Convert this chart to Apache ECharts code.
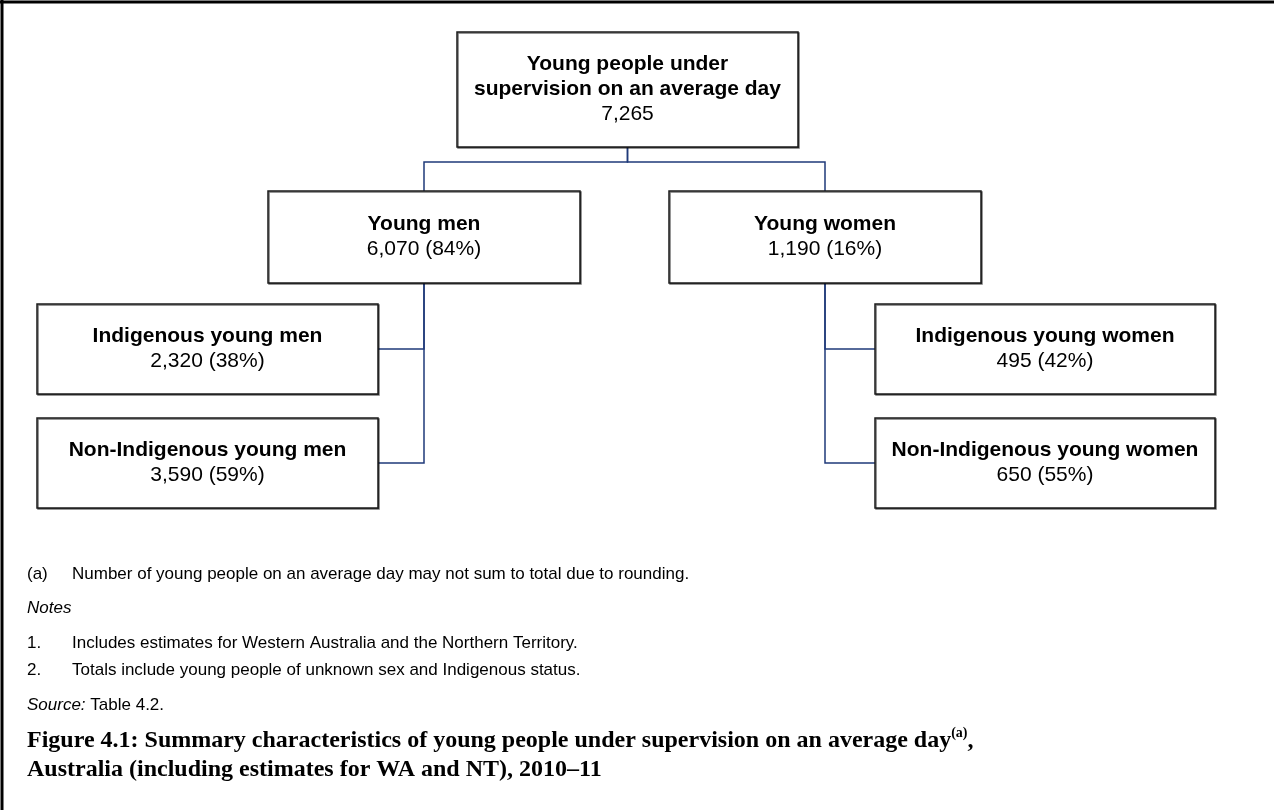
<!DOCTYPE html>
<html>
<head>
<meta charset="utf-8">
<script src="https://cdn.jsdelivr.net/npm/echarts@6/dist/echarts.min.js"></script>
<style>
  html, body { margin: 0; padding: 0; background: #fff; }
  #chart { width: 1274px; height: 810px; }
</style>
</head>
<body>
<div id="chart"></div>
<script>
// 节点文字与数值
var nodeLabels = [
  'Young people under\nsupervision on an average day',
  'Young men',
  'Young women',
  'Indigenous young men',
  'Non-Indigenous young men',
  'Indigenous young women',
  'Non-Indigenous young women'
];
var nodeCounts = [7265, 6070, 1190, 2320, 3590, 495, 650];
var nodeShares = [null, 84, 16, 38, 59, 42, 55];
// 父节点索引，-1 表示根
var nodeParents = [-1, 0, 0, 1, 1, 2, 2];

// 脚注与标题
var footnoteMark = '(a)';
var footnoteText = 'Number of young people on an average day may not sum to total due to rounding.';
var notesHeading = 'Notes';
var notesList = [
  'Includes estimates for Western Australia and the Northern Territory.',
  'Totals include young people of unknown sex and Indigenous status.'
];
var sourceLabel = 'Source:';
var sourceText = 'Table 4.2.';
var figureTitle = [
  'Figure 4.1: Summary characteristics of young people under supervision on an average day',
  'Australia (including estimates for WA and NT), 2010\u201311'
];

// 版面：每个方框的 [x0, y0, x1, y1]（坐标轴单位 = 像素）
var boxLayout = [
  [457, 32, 798, 147],
  [268, 191, 580, 283],
  [669, 191, 981, 283],
  [37, 304, 378, 394],
  [37, 418, 378, 508],
  [875, 304, 1215, 394],
  [875, 418, 1215, 508]
];
var busY = 162;

function fmt(n) {
  return n.toLocaleString('en-US');
}

function boxText(i) {
  var lines = nodeLabels[i].split('\n').map(function (s) { return '{b|' + s + '}'; });
  var val = fmt(nodeCounts[i]);
  if (nodeShares[i] != null) val += ' (' + nodeShares[i] + '%)';
  lines.push('{n|' + val + '}');
  return lines.join('\n');
}

// 连线：第一层从上方接入，第二层从侧面接入
var connectors = [];
for (var i = 0; i < nodeParents.length; i++) {
  var p = nodeParents[i];
  if (p < 0) continue;
  var pb = boxLayout[p], cb = boxLayout[i];
  var px = (pb[0] + pb[2]) / 2;
  var cx = (cb[0] + cb[2]) / 2;
  var coords;
  if (nodeParents[p] < 0) {
    coords = [[px, pb[3]], [px, busY], [cx, busY], [cx, cb[1]]];
  } else {
    var my = (cb[1] + cb[3]) / 2;
    var ex = cx < px ? cb[2] : cb[0];
    coords = [[px, pb[3]], [px, my], [ex, my]];
  }
  connectors.push({ coords: coords });
}

var myChart = echarts.init(document.getElementById('chart'));

var noteFont = '17px "Liberation Sans"';
var titleFont = 'bold 24px "Liberation Serif"';

var graphics = [
  { type: 'line', shape: { x1: 0, y1: 2, x2: 1274, y2: 2 }, style: { stroke: '#000', lineWidth: 3 } },
  { type: 'line', shape: { x1: 2, y1: 0, x2: 2, y2: 810 }, style: { stroke: '#000', lineWidth: 3 } },
  { type: 'text', x: 27, y: 574, style: { text: footnoteMark, font: noteFont, fill: '#000', textVerticalAlign: 'middle', verticalAlign: 'middle' } },
  { type: 'text', x: 72, y: 574, style: { text: footnoteText, font: noteFont, fill: '#000', textVerticalAlign: 'middle', verticalAlign: 'middle' } },
  { type: 'text', x: 27, y: 608, style: { text: notesHeading, font: 'italic ' + noteFont, fill: '#000', textVerticalAlign: 'middle', verticalAlign: 'middle' } },
  {
    type: 'text', x: 27, y: 705,
    style: {
      text: '{i|' + sourceLabel + '}{r| ' + sourceText + '}',
      rich: {
        i: { font: 'italic ' + noteFont, fill: '#000' },
        r: { font: noteFont, fill: '#000' }
      },
      textVerticalAlign: 'middle', verticalAlign: 'middle'
    }
  },
  {
    type: 'text', x: 27, y: 741,
    style: {
      text: '{t|' + figureTitle[0] + '}{s|(a)}{t|,}',
      rich: {
        t: { font: titleFont, fill: '#000', lineHeight: 30 },
        s: { font: 'bold 14px "Liberation Serif"', fill: '#000', verticalAlign: 'top', lineHeight: 30 }
      },
      textVerticalAlign: 'middle', verticalAlign: 'middle'
    }
  },
  { type: 'text', x: 27, y: 770, style: { text: figureTitle[1], font: titleFont, fill: '#000', textVerticalAlign: 'middle', verticalAlign: 'middle' } }
];
notesList.forEach(function (t, k) {
  var y = [643, 670][k];
  graphics.push({ type: 'text', x: 27, y: y, style: { text: (k + 1) + '.', font: noteFont, fill: '#000', textVerticalAlign: 'middle', verticalAlign: 'middle' } });
  graphics.push({ type: 'text', x: 72, y: y, style: { text: t, font: noteFont, fill: '#000', textVerticalAlign: 'middle', verticalAlign: 'middle' } });
});

var option = {
  animation: false,
  backgroundColor: '#fff',
  grid: { left: 0, right: 0, top: 0, bottom: 0 },
  xAxis: { type: 'value', min: 0, max: 1274, show: false },
  yAxis: { type: 'value', min: 0, max: 810, inverse: true, show: false },
  graphic: graphics,
  series: [
    {
      type: 'lines',
      coordinateSystem: 'cartesian2d',
      polyline: true,
      silent: true,
      z: 1,
      lineStyle: { color: '#1f3a7a', width: 1.5, opacity: 1 },
      data: connectors
    },
    {
      type: 'custom',
      z: 2,
      silent: true,
      encode: { x: [0, 2], y: [1, 3] },
      data: boxLayout.map(function (b, i) { return [b[0], b[1], b[2], b[3], i]; }),
      renderItem: function (params, api) {
        var idx = api.value(4);
        var p0 = api.coord([api.value(0), api.value(1)]);
        var p1 = api.coord([api.value(2), api.value(3)]);
        return {
          type: 'rect',
          shape: { x: p0[0], y: p0[1], width: p1[0] - p0[0], height: p1[1] - p0[1] },
          style: {
            fill: '#fff', stroke: '#1a1a1a', lineWidth: 1.5,
            shadowColor: 'rgba(0,0,0,0.55)', shadowOffsetX: 1, shadowOffsetY: 1, shadowBlur: 0
          },
          textContent: {
            style: {
              text: boxText(idx),
              align: 'center', verticalAlign: 'middle',
              rich: {
                b: { fontFamily: 'Liberation Sans', fontWeight: 'bold', fontSize: 21, lineHeight: 25, fill: '#000' },
                n: { fontFamily: 'Liberation Sans', fontSize: 21, lineHeight: 25, fill: '#000' }
              }
            }
          },
          textConfig: { position: 'inside' }
        };
      }
    }
  ]
};
myChart.setOption(option);
</script>
</body>
</html>
